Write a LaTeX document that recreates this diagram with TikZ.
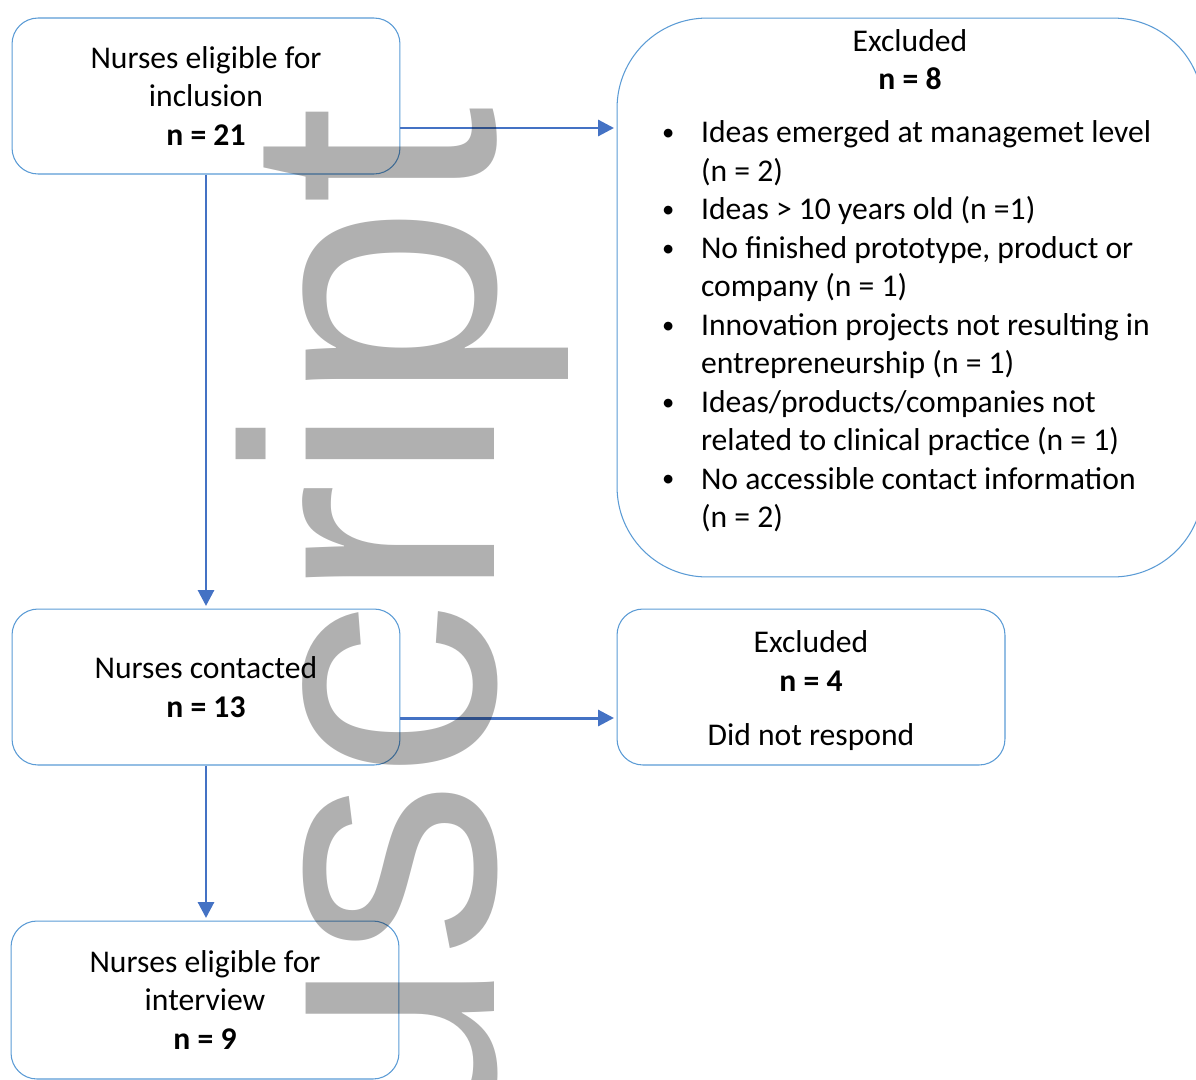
\documentclass[tikz,border=0pt]{standalone}
\usepackage{fontspec}
\setmainfont{Carlito}
\newfontfamily\wmfont{Liberation Sans}
\usetikzlibrary{arrows.meta}
\definecolor{boxblue}{HTML}{5B9BD5}
\definecolor{arrowblue}{HTML}{4472C4}
\def\boxfont{\fontsize{18}{21.9}\selectfont}
\def\listdot{\raisebox{1.3pt}{\fontsize{14}{14}\selectfont\textbullet}}

\begin{document}
\begin{tikzpicture}[x=0.02cm, y=-0.02cm,
  flowbox/.style={draw=boxblue, line width=0.6pt, rounded corners=0.52cm, minimum width=7.76cm, minimum height=3.12cm, align=center, inner sep=0pt, font=\boxfont},
  flowarrow/.style={arrowblue, line width=1.7pt, -{Triangle[length=0.32cm, width=0.32cm]}, shorten >=0.05cm}]
\useasboundingbox (0,0) rectangle (1196,1079);
\node[flowbox] (eligible) at (206,96) {Nurses eligible for\\inclusion\\\textbf{n = 21}};
\node[flowbox] (contacted) at (206,687) {Nurses contacted\\\textbf{n = 13}};
\node[flowbox, minimum height=3.16cm] (interview) at (205,1000) {Nurses eligible for\\interview\\\textbf{n = 9}};
\node[flowbox] (norespond) at (811,687) {\rule{0pt}{0.6cm}Excluded\\\textbf{n = 4}\\[0.32cm]Did not respond};
\node[flowbox, rounded corners=1.8cm, minimum width=11.72cm, minimum height=11.18cm] (excluded) at (910,297.5) {%
\begin{minipage}[c][11.18cm][t]{11.72cm}
\boxfont
\vspace{0.22cm}
\centering Excluded\\\textbf{n = 8}\par
\vspace{0.3cm}
\raggedright
\begin{tabular}[t]{@{\hspace{0.9cm}}p{0.78cm}@{}l@{}}
\listdot & Ideas emerged at managemet level\\
& (n = 2)\\
\listdot & Ideas > 10 years old (n =1)\\
\listdot & No finished prototype, product or\\
& company (n = 1)\\
\listdot & Innovation projects not resulting in\\
& entrepreneurship (n = 1)\\
\listdot & Ideas/products/companies not\\
& related to clinical practice (n = 1)\\
\listdot & No accessible contact information\\
& (n = 2)
\end{tabular}
\end{minipage}};
\draw[flowarrow] (eligible.south) -- (eligible.south |- contacted.north);
\draw[flowarrow] (contacted.south) -- (contacted.south |- interview.north);
\draw[flowarrow] ([yshift=-0.64cm]eligible.east) -- ([yshift=-0.64cm]eligible.east -| excluded.west);
\draw[flowarrow] ([yshift=-0.62cm]contacted.east) -- ([yshift=-0.62cm]contacted.east -| norespond.west);
\node[rotate=90, anchor=base east, inner sep=0pt, text=black, text opacity=0.31, font=\wmfont\fontsize{203}{203}\selectfont] (stamp) at (494,106) {uscript};
\end{tikzpicture}
\end{document}
